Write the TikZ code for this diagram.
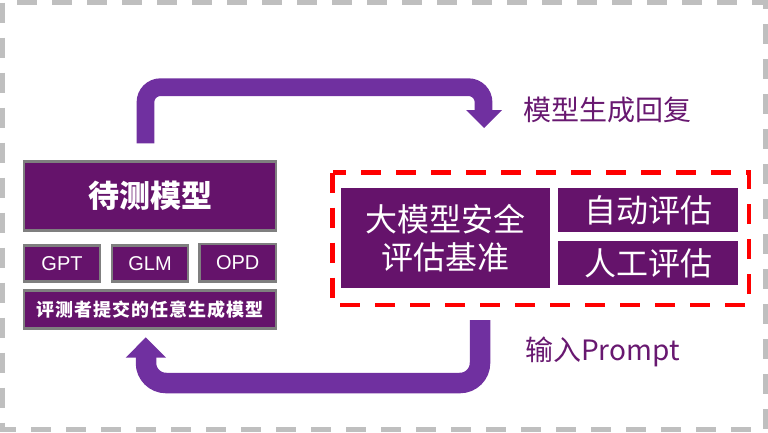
\documentclass[tikz,border=0pt]{standalone}
\usepackage{fontspec}
\newfontfamily\cjk{Noto Sans CJK SC}
\newfontfamily\lat{Liberation Sans}
\definecolor{boxfill}{RGB}{101,19,107}
\definecolor{boxedge}{RGB}{127,127,127}
\definecolor{arrowc}{RGB}{112,48,160}
\definecolor{labelc}{RGB}{104,24,112}
\definecolor{frameg}{RGB}{191,191,191}
\tikzset{
  mbox/.style={draw=boxedge, line width=2.5pt, fill=boxfill, text=white, inner sep=0pt},
  ebox/.style={fill=boxfill, text=white, inner sep=0pt},
  flow/.style={draw=arrowc, line cap=butt},
  head/.style={fill=arrowc},
  lbl/.style={text=labelc, inner sep=0pt, font=\cjk\fontsize{28}{32}\selectfont},
}
\begin{document}
\begin{tikzpicture}[x=1pt,y=-1pt]
\useasboundingbox (0,0) rectangle (768,432);
% outer gray dashed frame
\draw[frameg, line width=5pt, dash pattern=on 20pt off 15pt] (2.5,2.5) rectangle (765.5,429);

% left group
\node[mbox, minimum width=252pt, minimum height=69.4pt, font=\cjk\bfseries\fontsize{31}{36}\selectfont] (m) at (150,196) {\raisebox{1.5pt}{待测模型}};
\node[mbox, minimum width=76pt, minimum height=35.8pt, font=\lat\fontsize{20}{24}\selectfont] (gpt) at (62,263.5) {GPT};
\node[mbox, minimum width=76pt, minimum height=35.8pt, font=\lat\fontsize{20}{24}\selectfont] (glm) at (150,263.5) {GLM};
\node[mbox, minimum width=76.7pt, minimum height=37.4pt, font=\lat\fontsize{20}{24}\selectfont] (opd) at (237.7,262.7) {OPD};
\node[mbox, minimum width=252pt, minimum height=38pt, font=\cjk\bfseries\fontsize{18}{20}\selectfont\addfontfeature{LetterSpace=6}] (any) at (150,309.7) {评测者提交的任意生成模型};

% right group
\node[ebox, minimum width=209pt, minimum height=99.4pt, align=center, font=\cjk\fontsize{32}{38}\selectfont] (bench) at (445.5,238) {大模型安全\\评估基准};
\node[ebox, minimum width=180pt, minimum height=43.4pt, font=\cjk\fontsize{32}{36}\selectfont] (auto) at (648,210) {自动评估};
\node[ebox, minimum width=180pt, minimum height=44pt, font=\cjk\fontsize{32}{36}\selectfont] (human) at (648,263) {人工评估};
\draw[red, line width=4.5pt, dash pattern=on 20pt off 15pt] (332.5,172.5) rectangle (749,305);

% labels
\node[lbl] (lresp) at (607.5,110) {模型生成回复};
\node[lbl] (lin) at (602.5,352) {输入Prompt};

% upper arrow
\coordinate (u0) at (145.5,143.3);
\coordinate (u1) at (483.5,111);
\draw[flow, line width=17.7pt, rounded corners=15pt] (u0) -- (145.5,87.2) -- (483.5,87.2) -- (u1);
\fill[head] (466,110) -- (502,110) -- (484,128) -- cycle;

% lower arrow
\coordinate (d0) at (480,320);
\coordinate (d1) at (146,357);
\draw[flow, line width=20.5pt, rounded corners=20pt] (d0) -- (480,383) -- (146,383) -- (d1);
\fill[head] (125.7,357.7) -- (166,357.7) -- (145.8,337.3) -- cycle;
\end{tikzpicture}
\end{document}
